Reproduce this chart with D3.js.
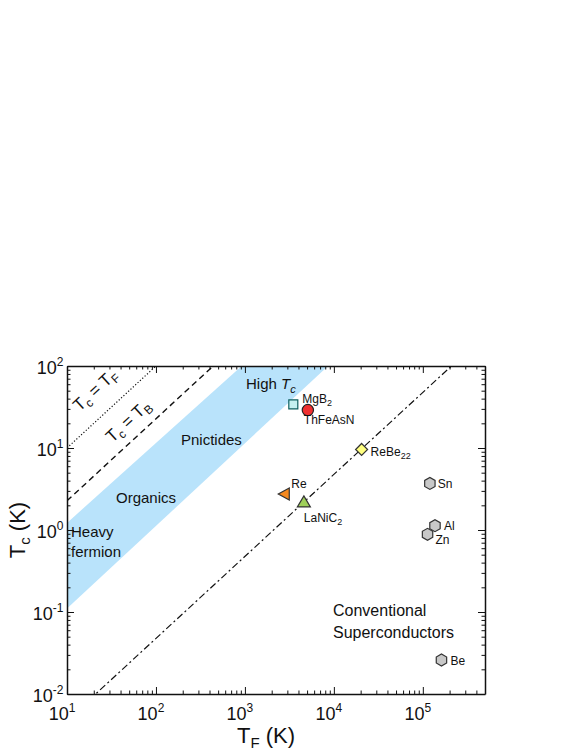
<!DOCTYPE html>
<html>
<head>
<meta charset="utf-8">
<script src="https://cdn.jsdelivr.net/npm/d3@7"></script>
<style>
body { margin: 0; background: #fff; }
text { font-family: "Liberation Sans", Arial, sans-serif; fill: #111; }
</style>
</head>
<body>
<div id="chart"></div>
<script>
var width = 581,
    height = 752;

var margin = {left: 67, right: 96, top: 366, bottom: 58};

// data
var xDomain = [10, 5e5];
var yDomain = [0.01, 100];
var xMajor = [1e1, 1e2, 1e3, 1e4, 1e5];
var yMajor = [1e-2, 1e-1, 1e0, 1e1, 1e2];
var xExp = ["1", "2", "3", "4", "5"];
var yExp = ["-2", "-1", "0", "1", "2"];

var names  = ["MgB2", "ThFeAsN", "ReBe22", "Re", "LaNiC2", "Sn", "Al", "Zn", "Be"];
var tf     = [3500, 5100, 20500, 2770, 4600, 1.2e5, 1.37e5, 1.13e5, 1.62e5];
var tc     = [34, 29, 9.6, 2.75, 2.2, 3.7, 1.13, 0.885, 0.026];
var shapes = ["square", "circle", "diamond", "left", "up", "hex", "hex", "hex", "hex"];
var fills  = ["#c6f1f1", "#f03030", "#ffff80", "#f5891f", "#9fd05a", "#c8c8c8", "#c8c8c8", "#c8c8c8", "#c8c8c8"];

// band (organics / pnictides / high Tc)
var bandTF = [10, 920, 8600, 10];
var bandTC = [1.22, 100, 100, 0.11];

// reference lines Tc = k * TF
var lineK = [1, 1 / 4.4, 1 / 2100];
var lineDash = ["1.2,2", "6,4", "7,3,2,3"];
var lineW = [1.2, 1.4, 1.2];

var x = d3.scaleLog().domain(xDomain).range([margin.left, width - margin.right]);
var y = d3.scaleLog().domain(yDomain).range([height - margin.bottom, margin.top]);

var svg = d3.select("#chart").append("svg")
    .attr("width", width)
    .attr("height", height);

var defs = svg.append("defs");
defs.append("clipPath").attr("id", "clip")
  .append("rect")
    .attr("x", x.range()[0]).attr("y", y.range()[1])
    .attr("width", x.range()[1] - x.range()[0])
    .attr("height", y.range()[0] - y.range()[1]);

var plot = svg.append("g").attr("clip-path", "url(#clip)");

// blue band
plot.append("path")
    .datum(d3.range(bandTF.length))
    .attr("fill", "#b9e3fb")
    .attr("d", d3.line()
        .x(function(i) { return x(bandTF[i]); })
        .y(function(i) { return y(bandTC[i]); }));

// guide lines
lineK.forEach(function(k, i) {
  var tmin = xDomain[0], tmax = xDomain[1];
  plot.append("line")
      .attr("x1", x(tmin)).attr("y1", y(k * tmin))
      .attr("x2", x(tmax)).attr("y2", y(k * tmax))
      .attr("stroke", "#111")
      .attr("stroke-width", lineW[i])
      .attr("stroke-dasharray", lineDash[i]);
});

// axes: ticks inward on all four sides
var minorX = [], minorY = [];
for (var e = 1; e < 6; e++) for (var m = 1; m < 10; m++) {
  var v = m * Math.pow(10, e);
  if (v >= xDomain[0] && v <= xDomain[1]) minorX.push(v);
}
for (e = -2; e < 3; e++) for (m = 1; m < 10; m++) {
  v = m * Math.pow(10, e);
  if (v >= yDomain[0] && v <= yDomain[1]) minorY.push(v);
}

function isMajor(v) {
  var l = Math.log10(v);
  return Math.abs(l - Math.round(l)) < 1e-9;
}

function drawAxis(axis, tr, vals) {
  var g = svg.append("g")
      .attr("transform", tr)
      .call(axis.tickValues(vals).tickFormat("").tickSizeOuter(0));
  g.select(".domain").attr("stroke", "#111").attr("stroke-width", 1.5);
  g.selectAll(".tick line")
      .attr("stroke", "#111")
      .attr("stroke-width", 1)
      .each(function(d) {
        var len = isMajor(d) ? 7 : 3.5;
        var ln = d3.select(this);
        if (ln.attr("x2") != null && +ln.attr("x2") != 0) ln.attr("x2", +ln.attr("x2") > 0 ? len : -len);
        else ln.attr("y2", +ln.attr("y2") > 0 ? len : -len);
      });
}

drawAxis(d3.axisBottom(x).tickSize(-1), "translate(0," + y.range()[0] + ")", minorX);
drawAxis(d3.axisTop(x).tickSize(-1), "translate(0," + y.range()[1] + ")", minorX);
drawAxis(d3.axisLeft(y).tickSize(-1), "translate(" + x.range()[0] + ",0)", minorY);
drawAxis(d3.axisRight(y).tickSize(-1), "translate(" + x.range()[1] + ",0)", minorY);

// tick labels
xMajor.forEach(function(v, i) {
  var t = svg.append("text")
      .attr("x", x(v) - 5)
      .attr("y", y.range()[0] + 26)
      .attr("text-anchor", "middle")
      .style("font-size", "18px");
  t.append("tspan").text("10");
  t.append("tspan").attr("dy", -8).style("font-size", "12px").text(xExp[i]);
});
yMajor.forEach(function(v, i) {
  var t = svg.append("text")
      .attr("x", x.range()[0] - 2)
      .attr("y", y(v) + 8)
      .attr("text-anchor", "end")
      .style("font-size", "18px");
  t.append("tspan").text("10");
  t.append("tspan").attr("dy", -8).style("font-size", "12px").text(yExp[i]);
  t.append("tspan").attr("dy", 8).text("\u200a");
});

// axis titles
var xt = svg.append("text")
    .attr("x", 266).attr("y", 743)
    .attr("text-anchor", "middle")
    .style("font-size", "22px");
xt.append("tspan").text("T");
xt.append("tspan").attr("dy", 5).style("font-size", "15px").text("F");
xt.append("tspan").attr("dy", -5).text(" (K)");

var yt = svg.append("text")
    .attr("transform", "translate(25,530) rotate(-90)")
    .attr("text-anchor", "middle")
    .style("font-size", "22px");
yt.append("tspan").text("T");
yt.append("tspan").attr("dy", 5).style("font-size", "15px").text("c");
yt.append("tspan").attr("dy", -5).text(" (K)");

// rotated line labels
var ang = -Math.atan((y(1) - y(10)) / (x(100) - x(10))) * 180 / Math.PI;
function lineLabel(cx, cy, sub) {
  var t = svg.append("text")
      .attr("transform", "translate(" + cx + "," + cy + ") rotate(" + ang + ")")
      .attr("text-anchor", "middle")
      .style("font-size", "17px");
  t.append("tspan").text("T");
  t.append("tspan").attr("dy", 4).style("font-size", "12px").text("c");
  t.append("tspan").attr("dy", -4).text(" = T");
  t.append("tspan").attr("dy", 4).style("font-size", "12px").text(sub);
}
lineLabel(99, 394, "F");
lineLabel(132, 425, "B");

// region labels
function label(tx, ty, s, size) {
  return svg.append("text").attr("x", tx).attr("y", ty).style("font-size", size + "px").text(s);
}
var ht = label(246, 389, "High ", 15);
ht.append("tspan").style("font-style", "italic").text("T");
ht.append("tspan").attr("dy", 4).style("font-style", "italic").style("font-size", "11px").text("c");
label(181, 445, "Pnictides", 15);
label(116, 503, "Organics", 15);
label(71, 537, "Heavy", 15);
label(71, 557, "fermion", 15);
label(333, 616, "Conventional", 16);
label(333, 638, "Superconductors", 16);

// markers
function hexPath(r) {
  var p = [];
  for (var k = 0; k < 6; k++) {
    var a = Math.PI / 6 + k * Math.PI / 3;
    p.push([r * Math.cos(a), r * Math.sin(a)]);
  }
  return "M" + p.join("L") + "Z";
}
var shapePath = {
  square: "M-4.5,-4.5H4.5V4.5H-4.5Z",
  circle: d3.symbol(d3.symbolCircle, 100)(),
  diamond: "M0,-6L6,0L0,6L-6,0Z",
  left: "M-6,0L5,-6L5,6Z",
  up: "M0,-6L6.5,5L-6.5,5Z",
  hex: hexPath(6)
};
var strokes = ["#0f6060", "#222", "#333", "#333", "#333", "#333", "#333", "#333", "#333"];

svg.selectAll(".pt")
    .data(names)
  .enter().append("path")
    .attr("class", "pt")
    .attr("transform", function(d, i) { return "translate(" + x(tf[i]) + "," + y(tc[i]) + ")"; })
    .attr("d", function(d, i) { return shapePath[shapes[i]]; })
    .attr("fill", function(d, i) { return fills[i]; })
    .attr("stroke", function(d, i) { return strokes[i]; })
    .attr("stroke-width", 1.2);

// point labels: offsets from marker
var lblDx = [9, -4, 9, 7, 0, 8, 9, 8, 9];
var lblDy = [-1, 14, 7, -6, 20, 5, 4, 10, 5];
var lblMain = ["MgB", "ThFeAsN", "ReBe", "Re", "LaNiC", "Sn", "Al", "Zn", "Be"];
var lblSub = ["2", "", "22", "", "2", "", "", "", ""];

names.forEach(function(d, i) {
  var t = svg.append("text")
      .attr("x", x(tf[i]) + lblDx[i])
      .attr("y", y(tc[i]) + lblDy[i])
      .style("font-size", "12px");
  t.append("tspan").text(lblMain[i]);
  if (lblSub[i]) t.append("tspan").attr("dy", 3).style("font-size", "9px").text(lblSub[i]);
});
</script>
</body>
</html>
